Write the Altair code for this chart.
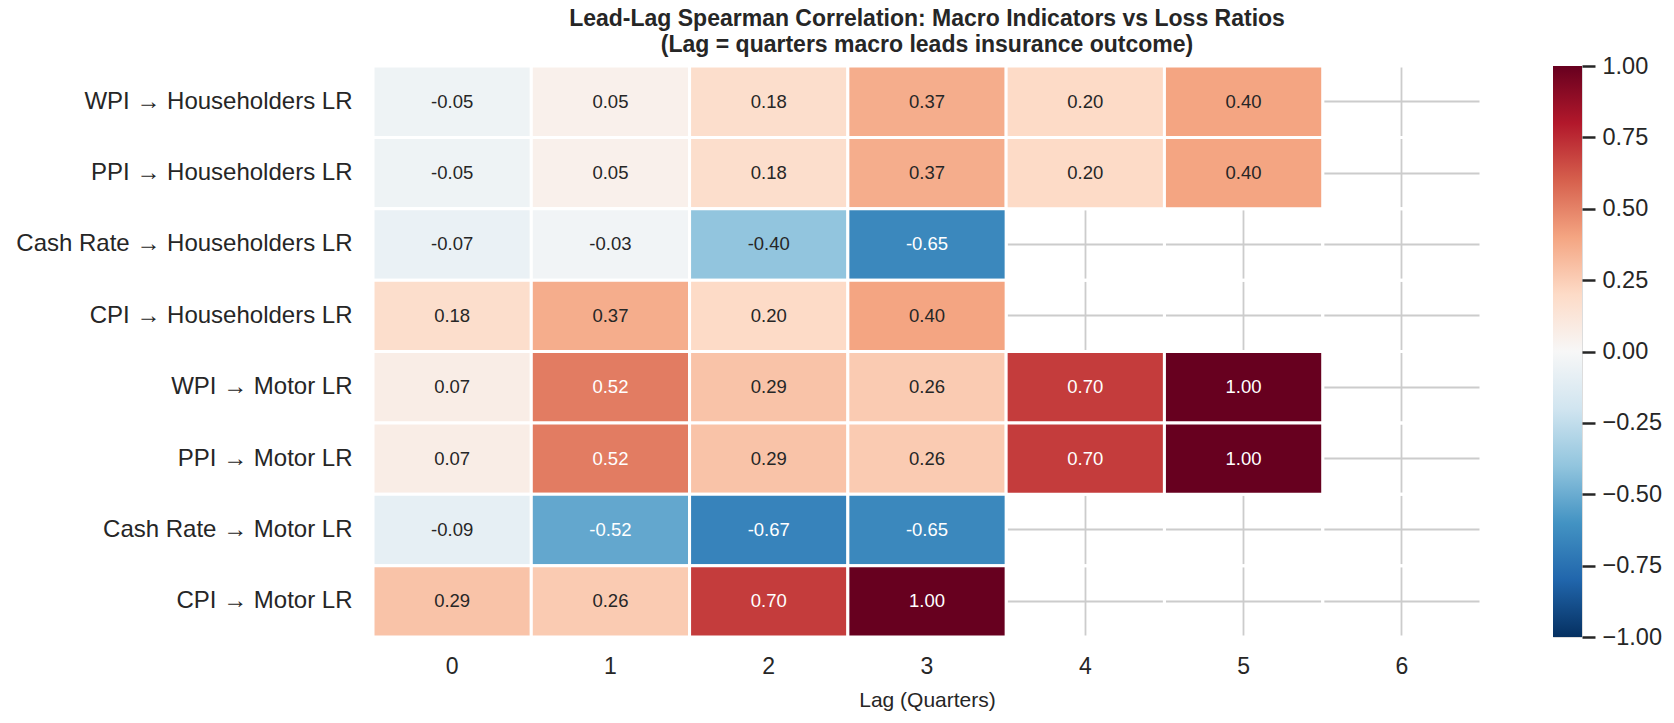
import altair as alt
import pandas as pd

FONT = "Liberation Sans"
INK = "#262626"
GRID = "#cccccc"

# Macro indicator -> insurance line pairs (rows, top to bottom)
pairs = [
    "WPI → Householders LR",
    "PPI → Householders LR",
    "Cash Rate → Householders LR",
    "CPI → Householders LR",
    "WPI → Motor LR",
    "PPI → Motor LR",
    "Cash Rate → Motor LR",
    "CPI → Motor LR",
]

# Lag in quarters (columns)
lags = [0, 1, 2, 3, 4, 5, 6]

# Spearman correlation per lag; None = not enough overlapping quarters
wpi_householders = [-0.05, 0.05, 0.18, 0.37, 0.20, 0.40, None]
ppi_householders = [-0.05, 0.05, 0.18, 0.37, 0.20, 0.40, None]
cash_householders = [-0.07, -0.03, -0.40, -0.65, None, None, None]
cpi_householders = [0.18, 0.37, 0.20, 0.40, None, None, None]
wpi_motor = [0.07, 0.52, 0.29, 0.26, 0.70, 1.00, None]
ppi_motor = [0.07, 0.52, 0.29, 0.26, 0.70, 1.00, None]
cash_motor = [-0.09, -0.52, -0.67, -0.65, None, None, None]
cpi_motor = [0.29, 0.26, 0.70, 1.00, None, None, None]

matrix = [
    wpi_householders, ppi_householders, cash_householders, cpi_householders,
    wpi_motor, ppi_motor, cash_motor, cpi_motor,
]

# Diverging red-blue palette (blue = negative, red = positive), centred on 0
palette_stops = [-1.0, -0.8, -0.6, -0.4, -0.2, 0.0, 0.2, 0.4, 0.6, 0.8, 1.0]
palette_colors = [
    "#053061", "#2166ac", "#4393c3", "#92c5de", "#d1e5f0", "#f7f7f7",
    "#fddbc7", "#f4a582", "#d6604d", "#b2182b", "#67001f",
]
colorbar_ticks = [-1.0, -0.75, -0.5, -0.25, 0.0, 0.25, 0.5, 0.75, 1.0]

records = []
for pair, row in zip(pairs, matrix):
    for lag, r in zip(lags, row):
        records.append({
            "pair": pair,
            "lag": lag,
            "r": r,
            "label": "" if r is None else f"{r:.2f}",
        })
df = pd.DataFrame(records)
filled = df[df["r"].notna()].copy()
empty = df[df["r"].isna()][["pair", "lag"]].copy()

x_enc = alt.X(
    "lag:O",
    scale=alt.Scale(domain=lags, paddingInner=0, paddingOuter=0),
    axis=alt.Axis(
        title="Lag (Quarters)", titleFont=FONT, titleFontSize=21,
        titleFontWeight="normal", titleColor=INK, titlePadding=11,
        labelFont=FONT, labelFontSize=23, labelColor=INK, labelAngle=0,
        labelPadding=18, ticks=False, domain=False, zindex=0,
        grid=True, gridColor=GRID, gridWidth=1.8, bandPosition=0.5,
    ),
)
y_enc = alt.Y(
    "pair:N",
    scale=alt.Scale(domain=pairs, paddingInner=0, paddingOuter=0),
    axis=alt.Axis(
        title=None, labelFont=FONT, labelFontSize=24, labelColor=INK,
        labelPadding=21, labelLimit=600, ticks=False, domain=False, zindex=0,
        grid=True, gridColor=GRID, gridWidth=1.8, bandPosition=0.5,
    ),
)

# Missing cells: only their white borders show, cutting the grid lines
blank_cells = alt.Chart(empty).mark_rect(
    fill="white", fillOpacity=0, stroke="white", strokeWidth=3
).encode(x=x_enc, y=y_enc)

cells = alt.Chart(filled).mark_rect(stroke="white", strokeWidth=3).encode(
    x=x_enc,
    y=y_enc,
    fill=alt.Fill(
        "r:Q",
        scale=alt.Scale(domain=palette_stops, range=palette_colors, interpolate="rgb"),
        legend=None,
    ),
)

annotations = alt.Chart(filled).mark_text(font=FONT, fontSize=18.5).encode(
    x=x_enc,
    y=y_enc,
    text="label:N",
    color=alt.condition("abs(datum.r) > 0.45", alt.value("white"), alt.value(INK)),
)

heatmap = alt.layer(blank_cells, cells, annotations).properties(
    width=1108,
    height=571,
    title=alt.TitleParams(
        text=[
            "Lead-Lag Spearman Correlation: Macro Indicators vs Loss Ratios",
            "(Lag = quarters macro leads insurance outcome)",
        ],
        font=FONT, fontSize=23, fontWeight="bold", color=INK,
        anchor="middle", frame="group", offset=8, lineHeight=26,
    ),
)

# Colour bar: one rect spanning -1..1 filled with the same palette as a gradient
bar_range = pd.DataFrame({"lo": [-1.0], "hi": [1.0]})
gradient = alt.LinearGradient(
    gradient="linear",
    stops=[
        alt.GradientStop(color=c, offset=(s + 1.0) / 2.0)
        for s, c in zip(palette_stops, palette_colors)
    ],
    x1=0, x2=0, y1=1, y2=0,
)
colorbar = alt.Chart(bar_range).mark_rect(fill=gradient).encode(
    y=alt.Y(
        "lo:Q",
        scale=alt.Scale(domain=[-1, 1], nice=False, zero=False),
        axis=alt.Axis(
            orient="right", title=None, values=colorbar_ticks, format=".2f",
            tickSize=13, tickWidth=2.5, tickColor=INK,
            labelFont=FONT, labelFontSize=23.5, labelColor=INK, labelPadding=7,
            labelFlush=False, labelOverlap=False, domain=False, grid=False,
        ),
    ),
    y2="hi:Q",
).properties(width=29, height=571)

chart = (
    alt.hconcat(heatmap, colorbar, spacing=72, bounds="flush")
    .properties(padding={"left": 15, "top": 7, "right": 10, "bottom": 10})
    .configure_view(stroke=None)
    .configure(background="white")
)

chart.save("out.html", embed_options={"renderer": "svg", "actions": False})
